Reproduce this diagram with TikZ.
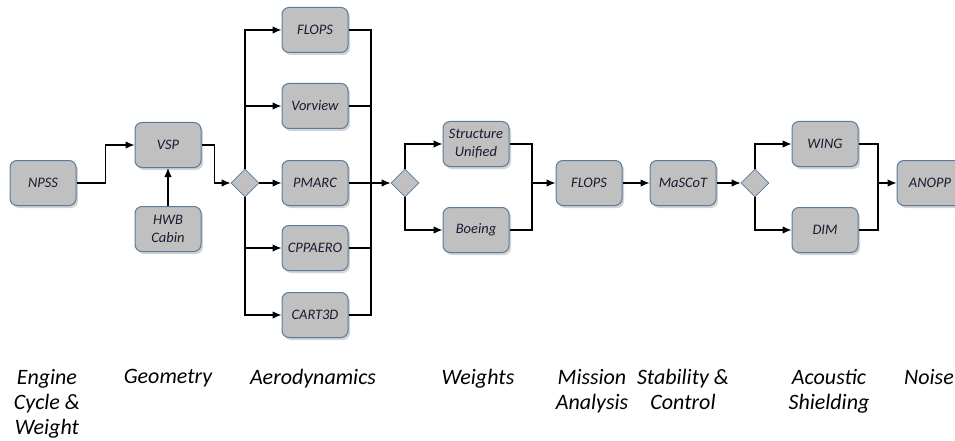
\documentclass[tikz,border=0pt]{standalone}
\usepackage{fontspec}
\setmainfont{Carlito}
\usetikzlibrary{shapes.geometric,shadows,arrows.meta}
\definecolor{boxfill}{HTML}{C0C0C0}
\definecolor{boxline}{HTML}{5A7AA0}
\definecolor{boxtext}{HTML}{1A1A33}
\begin{document}
\begin{tikzpicture}[x=1pt,y=-1pt,
    tool/.style={draw=boxline, fill=boxfill, rounded corners=7pt, line width=1pt, minimum width=66pt, minimum height=45pt, inner sep=2pt, align=center, text=boxtext, font=\fontsize{14.5}{18}\selectfont\itshape, drop shadow={opacity=0.35, shadow xshift=2pt, shadow yshift=-2.5pt}},
    gate/.style={diamond, draw=boxline, fill=boxfill, line width=0.8pt, minimum width=28pt, minimum height=28pt, inner sep=0pt},
    flow/.style={line width=1.2pt, -{Latex[length=9pt,width=7.5pt]}},
    wire/.style={line width=1.2pt},
    phase/.style={font=\fontsize{22}{25}\selectfont\itshape, align=center, anchor=north}]
    \useasboundingbox (0,0) rectangle (955,441);
    \node[tool] (npss) at (43,183) {NPSS};
    \node[tool] (vsp) at (168,145) {VSP};
    \node[tool] (hwb) at (168,229) {HWB\\Cabin};
    \node[gate] (g1) at (245,183) {};
    \node[tool] (flops1) at (315,30) {FLOPS};
    \node[tool] (vorview) at (315,106) {Vorview};
    \node[tool] (pmarc) at (315,183) {PMARC};
    \node[tool] (cppaero) at (315,248) {CPPAERO};
    \node[tool] (cart) at (315,315) {CART3D};
    \coordinate (m1) at (371,183);
    \node[gate] (g2) at (405,183) {};
    \node[tool] (struct) at (476,144) {Structure\\Unified};
    \node[tool] (boeing) at (476,230) {Boeing};
    \coordinate (m2) at (532,183);
    \node[tool] (flops2) at (589,183) {FLOPS};
    \node[tool] (mascot) at (683,183) {MaSCoT};
    \node[gate] (g3) at (755,183) {};
    \node[tool] (wing) at (825,144) {WING};
    \node[tool] (dim) at (825,230) {DIM};
    \coordinate (m3) at (878,183);
    \node[tool] (anopp) at (930,183) {ANOPP};
    \draw[flow] (npss.east) -- ++(29,0) |- (vsp.west);
    \draw[flow] (hwb.north) -- (vsp.south);
    \draw[flow] (vsp.east) -- ++(13,0) |- (g1.west);
    \draw[flow] (g1.east) -- (pmarc.west);
    \draw[flow] (g1.north) |- (flops1.west);
    \draw[flow] (g1.north) |- (vorview.west);
    \draw[flow] (g1.south) |- (cppaero.west);
    \draw[flow] (g1.south) |- (cart.west);
    \draw[wire] (flops1.east) -| (m1);
    \draw[wire] (vorview.east) -| (m1);
    \draw[wire] (cppaero.east) -| (m1);
    \draw[wire] (cart.east) -| (m1);
    \draw[flow] (pmarc.east) -- (g2.west);
    \draw[flow] (g2.north) |- (struct.west);
    \draw[flow] (g2.south) |- (boeing.west);
    \draw[wire] (struct.east) -| (m2);
    \draw[wire] (boeing.east) -| (m2);
    \draw[flow] (m2) -- (flops2.west);
    \draw[flow] (flops2.east) -- (mascot.west);
    \draw[flow] (mascot.east) -- (g3.west);
    \draw[flow] (g3.north) |- (wing.west);
    \draw[flow] (g3.south) |- (dim.west);
    \draw[wire] (wing.east) -| (m3);
    \draw[wire] (dim.east) -| (m3);
    \draw[flow] (m3) -- (anopp.west);
    \node[phase] (engine) at (47,366) {Engine\\Cycle \&\\Weight};
    \node[phase] (geometry) at (168,366) {Geometry};
    \node[phase] (aero) at (313,366) {Aerodynamics};
    \node[phase] (weights) at (478,366) {Weights};
    \node[phase] (mission) at (592,366) {Mission\\Analysis};
    \node[phase] (stability) at (683,366) {Stability \&\\Control};
    \node[phase] (acoustic) at (829,366) {Acoustic\\Shielding};
    \node[phase] (noise) at (929,366) {Noise};
\end{tikzpicture}
\end{document}
